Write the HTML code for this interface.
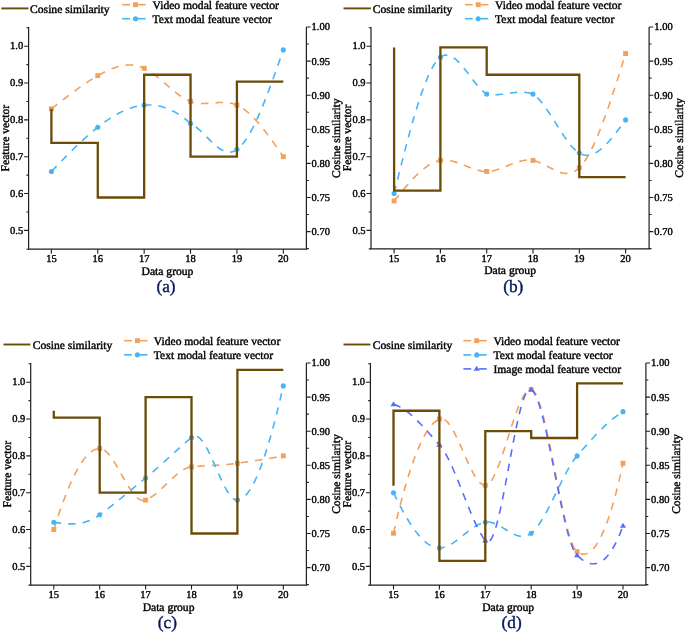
<!DOCTYPE html>
<html><head><meta charset="utf-8"><style>
html,body{margin:0;padding:0;background:#fff;}
svg{display:block;will-change:transform;}
svg text{font-family:"Liberation Serif", serif;fill:#000;stroke:#000;stroke-width:0.4px;font-size:10.5px;text-rendering:geometricPrecision;}
</style></head><body>
<svg width="685" height="632" viewBox="0 0 685 632">
<rect width="685" height="632" fill="#fff"/>
<g><path d="M28.60,27.10 V249.20 H306.40 V27.10" fill="none" stroke="#1e1e1e" stroke-width="1.2"/><text x="23.20" y="233.60" text-anchor="end">0.5</text><text x="23.20" y="196.76" text-anchor="end">0.6</text><text x="23.20" y="159.92" text-anchor="end">0.7</text><text x="23.20" y="123.08" text-anchor="end">0.8</text><text x="23.20" y="86.24" text-anchor="end">0.9</text><text x="23.20" y="49.40" text-anchor="end">1.0</text><text x="311.60" y="235.00">0.70</text><text x="311.60" y="200.90">0.75</text><text x="311.60" y="166.80">0.80</text><text x="311.60" y="132.70">0.85</text><text x="311.60" y="98.60">0.90</text><text x="311.60" y="64.50">0.95</text><text x="311.60" y="30.40">1.00</text><text x="51.40" y="261.90" text-anchor="middle">15</text><text x="97.78" y="261.90" text-anchor="middle">16</text><text x="144.16" y="261.90" text-anchor="middle">17</text><text x="190.54" y="261.90" text-anchor="middle">18</text><text x="236.92" y="261.90" text-anchor="middle">19</text><text x="283.30" y="261.90" text-anchor="middle">20</text><path d="M28.60,249.20 h-2.2 M28.60,230.40 h-4.5 M28.60,211.98 h-2.2 M28.60,193.56 h-4.5 M28.60,175.14 h-2.2 M28.60,156.72 h-4.5 M28.60,138.30 h-2.2 M28.60,119.88 h-4.5 M28.60,101.46 h-2.2 M28.60,83.04 h-4.5 M28.60,64.62 h-2.2 M28.60,46.20 h-4.5 M28.60,27.78 h-2.2 M306.40,248.65 h2.4 M306.40,231.60 h4.2 M306.40,214.55 h2.4 M306.40,197.50 h4.2 M306.40,180.45 h2.4 M306.40,163.40 h4.2 M306.40,146.35 h2.4 M306.40,129.30 h4.2 M306.40,112.25 h2.4 M306.40,95.20 h4.2 M306.40,78.15 h2.4 M306.40,61.10 h4.2 M306.40,44.05 h2.4 M306.40,27.00 h4.2 M51.40,249.20 v4.5 M97.78,249.20 v4.5 M144.16,249.20 v4.5 M190.54,249.20 v4.5 M236.92,249.20 v4.5 M283.30,249.20 v4.5" fill="none" stroke="#1e1e1e" stroke-width="1.1"/><text transform="translate(8.80,138.15) rotate(-90)" text-anchor="middle" style="font-size:11.6px">Feature vector</text><text transform="translate(340.20,138.15) rotate(-90)" text-anchor="middle" style="font-size:11.6px">Cosine similarity</text><text x="167.50" y="274.60" text-anchor="middle" style="font-size:11.6px">Data group</text><text x="166.00" y="292.30" text-anchor="middle" style="font-size:17.3px;fill:#03195f;stroke:#03195f">(a)</text><polyline points="51.40,108.83 52.17,108.22 52.95,107.62 53.72,107.01 54.49,106.40 55.27,105.80 56.04,105.19 56.81,104.59 57.58,103.99 58.36,103.38 59.13,102.78 59.90,102.18 60.68,101.58 61.45,100.98 62.22,100.38 62.99,99.79 63.77,99.19 64.54,98.60 65.31,98.01 66.09,97.41 66.86,96.83 67.63,96.24 68.41,95.65 69.18,95.07 69.95,94.49 70.72,93.91 71.50,93.33 72.27,92.76 73.04,92.18 73.82,91.61 74.59,91.05 75.36,90.48 76.14,89.92 76.91,89.36 77.68,88.81 78.45,88.25 79.23,87.70 80.00,87.16 80.77,86.61 81.55,86.07 82.32,85.54 83.09,85.00 83.87,84.47 84.64,83.95 85.41,83.43 86.19,82.91 86.96,82.39 87.73,81.88 88.50,81.38 89.28,80.88 90.05,80.38 90.82,79.89 91.60,79.40 92.37,78.92 93.14,78.44 93.91,77.97 94.69,77.50 95.46,77.03 96.23,76.57 97.01,76.12 97.78,75.67 98.55,75.23 99.33,74.79 100.10,74.36 100.87,73.94 101.64,73.52 102.42,73.10 103.19,72.70 103.96,72.30 104.74,71.91 105.51,71.53 106.28,71.15 107.06,70.79 107.83,70.43 108.60,70.08 109.38,69.74 110.15,69.41 110.92,69.09 111.69,68.78 112.47,68.48 113.24,68.19 114.01,67.91 114.79,67.64 115.56,67.39 116.33,67.14 117.11,66.91 117.88,66.69 118.65,66.48 119.42,66.28 120.20,66.10 120.97,65.93 121.74,65.77 122.52,65.63 123.29,65.50 124.06,65.38 124.84,65.28 125.61,65.20 126.38,65.13 127.15,65.07 127.93,65.03 128.70,65.01 129.47,65.00 130.25,65.01 131.02,65.04 131.79,65.08 132.56,65.14 133.34,65.22 134.11,65.32 134.88,65.43 135.66,65.56 136.43,65.71 137.20,65.88 137.98,66.07 138.75,66.28 139.52,66.51 140.30,66.76 141.07,67.02 141.84,67.31 142.61,67.62 143.39,67.95 144.16,68.30 144.93,68.68 145.71,69.07 146.48,69.49 147.25,69.92 148.03,70.37 148.80,70.84 149.57,71.33 150.34,71.83 151.12,72.35 151.89,72.88 152.66,73.43 153.44,73.99 154.21,74.56 154.98,75.15 155.75,75.74 156.53,76.35 157.30,76.96 158.07,77.59 158.85,78.22 159.62,78.86 160.39,79.50 161.17,80.15 161.94,80.81 162.71,81.47 163.48,82.13 164.26,82.79 165.03,83.46 165.80,84.13 166.58,84.80 167.35,85.46 168.12,86.13 168.90,86.79 169.67,87.46 170.44,88.11 171.22,88.77 171.99,89.42 172.76,90.06 173.53,90.69 174.31,91.32 175.08,91.94 175.85,92.55 176.63,93.16 177.40,93.75 178.17,94.33 178.94,94.89 179.72,95.45 180.49,95.99 181.26,96.52 182.04,97.03 182.81,97.53 183.58,98.01 184.36,98.47 185.13,98.92 185.90,99.34 186.68,99.75 187.45,100.13 188.22,100.50 188.99,100.84 189.77,101.16 190.54,101.46 191.31,101.73 192.09,101.98 192.86,102.21 193.63,102.42 194.41,102.60 195.18,102.76 195.95,102.91 196.72,103.04 197.50,103.15 198.27,103.24 199.04,103.32 199.82,103.38 200.59,103.43 201.36,103.46 202.14,103.48 202.91,103.50 203.68,103.50 204.45,103.49 205.23,103.47 206.00,103.44 206.77,103.40 207.55,103.36 208.32,103.31 209.09,103.26 209.87,103.21 210.64,103.15 211.41,103.08 212.18,103.02 212.96,102.96 213.73,102.89 214.50,102.83 215.28,102.77 216.05,102.71 216.82,102.65 217.60,102.60 218.37,102.55 219.14,102.51 219.91,102.48 220.69,102.45 221.46,102.44 222.23,102.43 223.01,102.43 223.78,102.44 224.55,102.47 225.33,102.50 226.10,102.55 226.87,102.62 227.64,102.70 228.42,102.80 229.19,102.91 229.96,103.04 230.74,103.19 231.51,103.36 232.28,103.54 233.06,103.75 233.83,103.98 234.60,104.24 235.37,104.52 236.15,104.82 236.92,105.14 237.69,105.50 238.47,105.87 239.24,106.28 240.01,106.71 240.78,107.16 241.56,107.63 242.33,108.13 243.10,108.66 243.88,109.20 244.65,109.77 245.42,110.36 246.20,110.97 246.97,111.60 247.74,112.25 248.52,112.92 249.29,113.61 250.06,114.32 250.83,115.05 251.61,115.79 252.38,116.56 253.15,117.34 253.93,118.14 254.70,118.95 255.47,119.78 256.25,120.63 257.02,121.49 257.79,122.37 258.56,123.26 259.34,124.16 260.11,125.08 260.88,126.01 261.66,126.96 262.43,127.91 263.20,128.88 263.97,129.86 264.75,130.85 265.52,131.85 266.29,132.86 267.07,133.88 267.84,134.91 268.61,135.94 269.39,136.99 270.16,138.04 270.93,139.10 271.70,140.17 272.48,141.24 273.25,142.32 274.02,143.41 274.80,144.50 275.57,145.60 276.34,146.70 277.12,147.80 277.89,148.91 278.66,150.02 279.44,151.13 280.21,152.25 280.98,153.36 281.75,154.48 282.53,155.60 283.30,156.72" fill="none" stroke="#f2a15c" stroke-width="1.6" stroke-dasharray="7.5 7"/><rect x="48.95" y="106.38" width="4.90" height="4.90" fill="#f2a15c"/><rect x="95.33" y="73.22" width="4.90" height="4.90" fill="#f2a15c"/><rect x="141.71" y="65.85" width="4.90" height="4.90" fill="#f2a15c"/><rect x="188.09" y="99.01" width="4.90" height="4.90" fill="#f2a15c"/><rect x="234.47" y="102.69" width="4.90" height="4.90" fill="#f2a15c"/><rect x="280.85" y="154.27" width="4.90" height="4.90" fill="#f2a15c"/><polyline points="51.40,171.46 52.17,170.66 52.95,169.86 53.72,169.06 54.49,168.26 55.27,167.46 56.04,166.66 56.81,165.87 57.58,165.07 58.36,164.27 59.13,163.48 59.90,162.69 60.68,161.89 61.45,161.10 62.22,160.31 62.99,159.52 63.77,158.74 64.54,157.95 65.31,157.17 66.09,156.39 66.86,155.61 67.63,154.83 68.41,154.05 69.18,153.28 69.95,152.51 70.72,151.74 71.50,150.98 72.27,150.22 73.04,149.46 73.82,148.70 74.59,147.94 75.36,147.19 76.14,146.45 76.91,145.70 77.68,144.96 78.45,144.22 79.23,143.49 80.00,142.76 80.77,142.03 81.55,141.31 82.32,140.59 83.09,139.88 83.87,139.17 84.64,138.46 85.41,137.76 86.19,137.07 86.96,136.38 87.73,135.69 88.50,135.01 89.28,134.33 90.05,133.66 90.82,132.99 91.60,132.33 92.37,131.68 93.14,131.03 93.91,130.38 94.69,129.74 95.46,129.11 96.23,128.48 97.01,127.86 97.78,127.25 98.55,126.64 99.33,126.04 100.10,125.44 100.87,124.85 101.64,124.27 102.42,123.69 103.19,123.13 103.96,122.56 104.74,122.01 105.51,121.46 106.28,120.92 107.06,120.39 107.83,119.86 108.60,119.34 109.38,118.83 110.15,118.33 110.92,117.83 111.69,117.34 112.47,116.86 113.24,116.39 114.01,115.93 114.79,115.47 115.56,115.02 116.33,114.58 117.11,114.15 117.88,113.73 118.65,113.32 119.42,112.91 120.20,112.52 120.97,112.13 121.74,111.75 122.52,111.38 123.29,111.03 124.06,110.67 124.84,110.33 125.61,110.00 126.38,109.68 127.15,109.37 127.93,109.07 128.70,108.78 129.47,108.49 130.25,108.22 131.02,107.96 131.79,107.71 132.56,107.46 133.34,107.23 134.11,107.01 134.88,106.80 135.66,106.60 136.43,106.42 137.20,106.24 137.98,106.07 138.75,105.92 139.52,105.77 140.30,105.64 141.07,105.52 141.84,105.41 142.61,105.31 143.39,105.22 144.16,105.14 144.93,105.08 145.71,105.03 146.48,104.99 147.25,104.96 148.03,104.94 148.80,104.94 149.57,104.95 150.34,104.97 151.12,105.00 151.89,105.04 152.66,105.10 153.44,105.17 154.21,105.25 154.98,105.34 155.75,105.45 156.53,105.57 157.30,105.70 158.07,105.84 158.85,106.00 159.62,106.16 160.39,106.34 161.17,106.54 161.94,106.74 162.71,106.96 163.48,107.19 164.26,107.43 165.03,107.69 165.80,107.96 166.58,108.24 167.35,108.54 168.12,108.85 168.90,109.17 169.67,109.50 170.44,109.85 171.22,110.21 171.99,110.58 172.76,110.97 173.53,111.37 174.31,111.78 175.08,112.20 175.85,112.64 176.63,113.10 177.40,113.56 178.17,114.04 178.94,114.53 179.72,115.04 180.49,115.56 181.26,116.09 182.04,116.64 182.81,117.20 183.58,117.77 184.36,118.36 185.13,118.96 185.90,119.58 186.68,120.21 187.45,120.85 188.22,121.51 188.99,122.18 189.77,122.87 190.54,123.56 191.31,123.95 192.09,124.38 192.86,124.84 193.63,125.33 194.41,125.85 195.18,126.41 195.95,126.99 196.72,127.60 197.50,128.23 198.27,128.89 199.04,129.56 199.82,130.25 200.59,130.96 201.36,131.69 202.14,132.43 202.91,133.18 203.68,133.94 204.45,134.70 205.23,135.48 206.00,136.25 206.77,137.03 207.55,137.81 208.32,138.59 209.09,139.36 209.87,140.13 210.64,140.89 211.41,141.64 212.18,142.38 212.96,143.11 213.73,143.83 214.50,144.52 215.28,145.20 216.05,145.86 216.82,146.50 217.60,147.11 218.37,147.70 219.14,148.26 219.91,148.79 220.69,149.29 221.46,149.76 222.23,150.19 223.01,150.59 223.78,150.95 224.55,151.26 225.33,151.54 226.10,151.77 226.87,151.96 227.64,152.09 228.42,152.18 229.19,152.22 229.96,152.20 230.74,152.13 231.51,152.00 232.28,151.81 233.06,151.56 233.83,151.25 234.60,150.88 235.37,150.44 236.15,149.93 236.92,149.35 237.69,148.78 238.47,148.15 239.24,147.47 240.01,146.74 240.78,145.96 241.56,145.12 242.33,144.23 243.10,143.30 243.88,142.31 244.65,141.28 245.42,140.21 246.20,139.08 246.97,137.92 247.74,136.70 248.52,135.45 249.29,134.16 250.06,132.82 250.83,131.44 251.61,130.03 252.38,128.57 253.15,127.08 253.93,125.56 254.70,123.99 255.47,122.40 256.25,120.77 257.02,119.11 257.79,117.41 258.56,115.69 259.34,113.93 260.11,112.15 260.88,110.34 261.66,108.50 262.43,106.64 263.20,104.75 263.97,102.84 264.75,100.90 265.52,98.94 266.29,96.96 267.07,94.96 267.84,92.94 268.61,90.90 269.39,88.85 270.16,86.78 270.93,84.69 271.70,82.58 272.48,80.47 273.25,78.34 274.02,76.19 274.80,74.04 275.57,71.88 276.34,69.70 277.12,67.52 277.89,65.33 278.66,63.14 279.44,60.94 280.21,58.73 280.98,56.52 281.75,54.31 282.53,52.10 283.30,49.88" fill="none" stroke="#45b4f8" stroke-width="1.6" stroke-dasharray="7.5 7"/><circle cx="51.40" cy="171.46" r="2.55" fill="#45b4f8"/><circle cx="97.78" cy="127.25" r="2.55" fill="#45b4f8"/><circle cx="144.16" cy="105.14" r="2.55" fill="#45b4f8"/><circle cx="190.54" cy="123.56" r="2.55" fill="#45b4f8"/><circle cx="236.92" cy="149.35" r="2.55" fill="#45b4f8"/><circle cx="283.30" cy="49.88" r="2.55" fill="#45b4f8"/><path d="M51.40,108.84 V142.94 H97.78 V197.50 H144.16 V74.74 H190.54 V156.58 H236.92 V81.56 H283.30" fill="none" stroke="#6b4b08" stroke-width="2.3"/><line x1="1.30" y1="8.40" x2="28.50" y2="8.40" stroke="#6b4b08" stroke-width="1.9"/><text x="30.10" y="12.50" style="font-size:11.6px">Cosine similarity</text><line x1="122.20" y1="4.70" x2="130.00" y2="4.70" stroke="#f2a15c" stroke-width="1.6"/><line x1="137.80" y1="4.70" x2="145.60" y2="4.70" stroke="#f2a15c" stroke-width="1.6"/><rect x="133.05" y="2.25" width="4.90" height="4.90" fill="#f2a15c"/><text x="152.50" y="9.10" style="font-size:11.6px">Video modal feature vector</text><line x1="122.20" y1="18.70" x2="130.00" y2="18.70" stroke="#45b4f8" stroke-width="1.6"/><line x1="137.80" y1="18.70" x2="145.60" y2="18.70" stroke="#45b4f8" stroke-width="1.6"/><circle cx="135.50" cy="18.70" r="2.55" fill="#45b4f8"/><text x="152.50" y="23.10" style="font-size:11.6px">Text modal feature vector</text></g>
<g><path d="M371.00,27.10 V248.90 H649.10 V27.10" fill="none" stroke="#1e1e1e" stroke-width="1.2"/><text x="365.60" y="233.60" text-anchor="end">0.5</text><text x="365.60" y="196.76" text-anchor="end">0.6</text><text x="365.60" y="159.92" text-anchor="end">0.7</text><text x="365.60" y="123.08" text-anchor="end">0.8</text><text x="365.60" y="86.24" text-anchor="end">0.9</text><text x="365.60" y="49.40" text-anchor="end">1.0</text><text x="654.30" y="235.00">0.70</text><text x="654.30" y="200.90">0.75</text><text x="654.30" y="166.80">0.80</text><text x="654.30" y="132.70">0.85</text><text x="654.30" y="98.60">0.90</text><text x="654.30" y="64.50">0.95</text><text x="654.30" y="30.40">1.00</text><text x="394.10" y="261.60" text-anchor="middle">15</text><text x="440.40" y="261.60" text-anchor="middle">16</text><text x="486.70" y="261.60" text-anchor="middle">17</text><text x="533.00" y="261.60" text-anchor="middle">18</text><text x="579.30" y="261.60" text-anchor="middle">19</text><text x="625.60" y="261.60" text-anchor="middle">20</text><path d="M371.00,248.90 h-2.2 M371.00,230.40 h-4.5 M371.00,211.98 h-2.2 M371.00,193.56 h-4.5 M371.00,175.14 h-2.2 M371.00,156.72 h-4.5 M371.00,138.30 h-2.2 M371.00,119.88 h-4.5 M371.00,101.46 h-2.2 M371.00,83.04 h-4.5 M371.00,64.62 h-2.2 M371.00,46.20 h-4.5 M371.00,27.78 h-2.2 M649.10,248.65 h2.4 M649.10,231.60 h4.2 M649.10,214.55 h2.4 M649.10,197.50 h4.2 M649.10,180.45 h2.4 M649.10,163.40 h4.2 M649.10,146.35 h2.4 M649.10,129.30 h4.2 M649.10,112.25 h2.4 M649.10,95.20 h4.2 M649.10,78.15 h2.4 M649.10,61.10 h4.2 M649.10,44.05 h2.4 M649.10,27.00 h4.2 M394.10,248.90 v4.5 M440.40,248.90 v4.5 M486.70,248.90 v4.5 M533.00,248.90 v4.5 M579.30,248.90 v4.5 M625.60,248.90 v4.5" fill="none" stroke="#1e1e1e" stroke-width="1.1"/><text transform="translate(351.20,138.00) rotate(-90)" text-anchor="middle" style="font-size:11.6px">Feature vector</text><text transform="translate(682.90,138.00) rotate(-90)" text-anchor="middle" style="font-size:11.6px">Cosine similarity</text><text x="510.05" y="274.30" text-anchor="middle" style="font-size:11.6px">Data group</text><text x="513.30" y="292.00" text-anchor="middle" style="font-size:17.3px;fill:#03195f;stroke:#03195f">(b)</text><polyline points="394.10,200.93 394.87,199.98 395.64,199.03 396.42,198.09 397.19,197.14 397.96,196.20 398.73,195.26 399.50,194.32 400.27,193.38 401.05,192.45 401.82,191.53 402.59,190.60 403.36,189.69 404.13,188.77 404.90,187.87 405.68,186.97 406.45,186.07 407.22,185.19 407.99,184.31 408.76,183.44 409.53,182.58 410.31,181.73 411.08,180.88 411.85,180.05 412.62,179.23 413.39,178.42 414.16,177.62 414.94,176.83 415.71,176.05 416.48,175.29 417.25,174.54 418.02,173.80 418.79,173.08 419.56,172.37 420.34,171.68 421.11,171.00 421.88,170.34 422.65,169.69 423.42,169.07 424.20,168.45 424.97,167.86 425.74,167.28 426.51,166.73 427.28,166.19 428.05,165.67 428.83,165.17 429.60,164.70 430.37,164.24 431.14,163.80 431.91,163.39 432.68,163.00 433.46,162.63 434.23,162.28 435.00,161.96 435.77,161.66 436.54,161.39 437.31,161.14 438.09,160.92 438.86,160.72 439.63,160.55 440.40,160.40 441.17,160.29 441.94,160.20 442.72,160.13 443.49,160.09 444.26,160.07 445.03,160.08 445.80,160.11 446.57,160.16 447.35,160.23 448.12,160.32 448.89,160.43 449.66,160.56 450.43,160.70 451.20,160.86 451.98,161.04 452.75,161.23 453.52,161.43 454.29,161.65 455.06,161.88 455.83,162.12 456.61,162.37 457.38,162.63 458.15,162.90 458.92,163.18 459.69,163.47 460.46,163.76 461.24,164.06 462.01,164.36 462.78,164.66 463.55,164.97 464.32,165.28 465.09,165.59 465.87,165.91 466.64,166.22 467.41,166.53 468.18,166.84 468.95,167.14 469.72,167.45 470.50,167.74 471.27,168.04 472.04,168.32 472.81,168.60 473.58,168.87 474.35,169.13 475.12,169.39 475.90,169.63 476.67,169.86 477.44,170.08 478.21,170.28 478.98,170.48 479.75,170.65 480.53,170.82 481.30,170.96 482.07,171.09 482.84,171.20 483.61,171.29 484.38,171.37 485.16,171.42 485.93,171.45 486.70,171.46 487.47,171.44 488.24,171.41 489.01,171.35 489.79,171.27 490.56,171.17 491.33,171.06 492.10,170.92 492.87,170.77 493.64,170.60 494.42,170.42 495.19,170.22 495.96,170.01 496.73,169.79 497.50,169.55 498.28,169.30 499.05,169.05 499.82,168.78 500.59,168.50 501.36,168.22 502.13,167.93 502.91,167.64 503.68,167.33 504.45,167.03 505.22,166.72 505.99,166.41 506.76,166.09 507.54,165.78 508.31,165.47 509.08,165.15 509.85,164.84 510.62,164.53 511.39,164.22 512.16,163.92 512.94,163.62 513.71,163.33 514.48,163.05 515.25,162.77 516.02,162.50 516.80,162.24 517.57,161.99 518.34,161.75 519.11,161.52 519.88,161.31 520.65,161.11 521.42,160.92 522.20,160.75 522.97,160.59 523.74,160.45 524.51,160.33 525.28,160.23 526.06,160.15 526.83,160.08 527.60,160.04 528.37,160.02 529.14,160.02 529.91,160.05 530.69,160.10 531.46,160.17 532.23,160.28 533.00,160.40 533.77,160.56 534.54,160.74 535.32,160.95 536.09,161.18 536.86,161.43 537.63,161.71 538.40,162.00 539.17,162.31 539.95,162.64 540.72,162.98 541.49,163.34 542.26,163.71 543.03,164.09 543.80,164.47 544.58,164.87 545.35,165.27 546.12,165.68 546.89,166.09 547.66,166.51 548.43,166.92 549.21,167.33 549.98,167.74 550.75,168.15 551.52,168.56 552.29,168.95 553.06,169.34 553.84,169.72 554.61,170.09 555.38,170.45 556.15,170.79 556.92,171.12 557.69,171.43 558.47,171.73 559.24,172.00 560.01,172.26 560.78,172.49 561.55,172.70 562.32,172.88 563.10,173.04 563.87,173.17 564.64,173.27 565.41,173.34 566.18,173.38 566.95,173.39 567.73,173.36 568.50,173.29 569.27,173.19 570.04,173.05 570.81,172.87 571.58,172.64 572.36,172.37 573.13,172.06 573.90,171.70 574.67,171.29 575.44,170.84 576.21,170.33 576.99,169.77 577.76,169.16 578.53,168.49 579.30,167.77 580.07,166.99 580.84,166.16 581.62,165.26 582.39,164.32 583.16,163.32 583.93,162.26 584.70,161.16 585.47,160.00 586.25,158.79 587.02,157.54 587.79,156.24 588.56,154.89 589.33,153.49 590.10,152.05 590.88,150.56 591.65,149.03 592.42,147.46 593.19,145.85 593.96,144.20 594.73,142.51 595.50,140.78 596.28,139.01 597.05,137.20 597.82,135.36 598.59,133.49 599.36,131.58 600.13,129.64 600.91,127.67 601.68,125.67 602.45,123.63 603.22,121.57 603.99,119.48 604.76,117.36 605.54,115.22 606.31,113.06 607.08,110.86 607.85,108.65 608.62,106.41 609.39,104.16 610.17,101.88 610.94,99.58 611.71,97.27 612.48,94.93 613.25,92.58 614.02,90.22 614.80,87.84 615.57,85.45 616.34,83.05 617.11,80.63 617.88,78.20 618.65,75.77 619.43,73.32 620.20,70.87 620.97,68.41 621.74,65.95 622.51,63.48 623.29,61.00 624.06,58.53 624.83,56.05 625.60,53.57" fill="none" stroke="#f2a15c" stroke-width="1.6" stroke-dasharray="7.5 7"/><rect x="391.65" y="198.48" width="4.90" height="4.90" fill="#f2a15c"/><rect x="437.95" y="157.95" width="4.90" height="4.90" fill="#f2a15c"/><rect x="484.25" y="169.01" width="4.90" height="4.90" fill="#f2a15c"/><rect x="530.55" y="157.95" width="4.90" height="4.90" fill="#f2a15c"/><rect x="576.85" y="165.32" width="4.90" height="4.90" fill="#f2a15c"/><rect x="623.15" y="51.12" width="4.90" height="4.90" fill="#f2a15c"/><polyline points="394.10,193.56 394.87,190.44 395.64,187.33 396.42,184.22 397.19,181.11 397.96,178.01 398.73,174.92 399.50,171.83 400.27,168.76 401.05,165.69 401.82,162.64 402.59,159.60 403.36,156.58 404.13,153.58 404.90,150.59 405.68,147.62 406.45,144.68 407.22,141.75 407.99,138.85 408.76,135.98 409.53,133.13 410.31,130.31 411.08,127.52 411.85,124.76 412.62,122.03 413.39,119.34 414.16,116.68 414.94,114.06 415.71,111.48 416.48,108.93 417.25,106.43 418.02,103.97 418.79,101.55 419.56,99.18 420.34,96.85 421.11,94.57 421.88,92.34 422.65,90.16 423.42,88.04 424.20,85.96 424.97,83.94 425.74,81.98 426.51,80.08 427.28,78.23 428.05,76.45 428.83,74.72 429.60,73.06 430.37,71.47 431.14,69.94 431.91,68.48 432.68,67.08 433.46,65.76 434.23,64.51 435.00,63.33 435.77,62.23 436.54,61.20 437.31,60.25 438.09,59.38 438.86,58.59 439.63,57.88 440.40,57.25 441.17,56.71 441.94,56.25 442.72,55.87 443.49,55.56 444.26,55.34 445.03,55.18 445.80,55.10 446.57,55.08 447.35,55.13 448.12,55.25 448.89,55.43 449.66,55.67 450.43,55.96 451.20,56.31 451.98,56.72 452.75,57.17 453.52,57.68 454.29,58.23 455.06,58.83 455.83,59.46 456.61,60.14 457.38,60.86 458.15,61.61 458.92,62.39 459.69,63.21 460.46,64.05 461.24,64.92 462.01,65.82 462.78,66.74 463.55,67.67 464.32,68.63 465.09,69.60 465.87,70.58 466.64,71.58 467.41,72.58 468.18,73.59 468.95,74.61 469.72,75.63 470.50,76.65 471.27,77.66 472.04,78.67 472.81,79.68 473.58,80.67 474.35,81.66 475.12,82.63 475.90,83.58 476.67,84.52 477.44,85.44 478.21,86.34 478.98,87.21 479.75,88.05 480.53,88.87 481.30,89.65 482.07,90.40 482.84,91.12 483.61,91.80 484.38,92.44 485.16,93.03 485.93,93.59 486.70,94.09 487.47,94.24 488.24,94.37 489.01,94.47 489.79,94.57 490.56,94.64 491.33,94.70 492.10,94.74 492.87,94.77 493.64,94.78 494.42,94.79 495.19,94.77 495.96,94.75 496.73,94.72 497.50,94.67 498.28,94.62 499.05,94.56 499.82,94.48 500.59,94.41 501.36,94.32 502.13,94.23 502.91,94.13 503.68,94.03 504.45,93.93 505.22,93.82 505.99,93.71 506.76,93.60 507.54,93.49 508.31,93.38 509.08,93.27 509.85,93.16 510.62,93.05 511.39,92.94 512.16,92.84 512.94,92.74 513.71,92.65 514.48,92.57 515.25,92.48 516.02,92.41 516.80,92.35 517.57,92.29 518.34,92.24 519.11,92.21 519.88,92.18 520.65,92.16 521.42,92.16 522.20,92.17 522.97,92.20 523.74,92.24 524.51,92.29 525.28,92.36 526.06,92.45 526.83,92.55 527.60,92.67 528.37,92.81 529.14,92.97 529.91,93.15 530.69,93.35 531.46,93.58 532.23,93.82 533.00,94.09 533.77,94.62 534.54,95.19 535.32,95.81 536.09,96.47 536.86,97.18 537.63,97.93 538.40,98.71 539.17,99.54 539.95,100.40 540.72,101.29 541.49,102.22 542.26,103.18 543.03,104.17 543.80,105.19 544.58,106.23 545.35,107.30 546.12,108.38 546.89,109.49 547.66,110.62 548.43,111.77 549.21,112.94 549.98,114.11 550.75,115.30 551.52,116.51 552.29,117.72 553.06,118.94 553.84,120.16 554.61,121.39 555.38,122.62 556.15,123.85 556.92,125.09 557.69,126.32 558.47,127.54 559.24,128.76 560.01,129.98 560.78,131.18 561.55,132.37 562.32,133.55 563.10,134.72 563.87,135.87 564.64,137.01 565.41,138.12 566.18,139.22 566.95,140.29 567.73,141.34 568.50,142.36 569.27,143.35 570.04,144.32 570.81,145.25 571.58,146.16 572.36,147.03 573.13,147.86 573.90,148.65 574.67,149.41 575.44,150.13 576.21,150.80 576.99,151.43 577.76,152.01 578.53,152.55 579.30,153.04 580.07,153.47 580.84,153.86 581.62,154.20 582.39,154.49 583.16,154.73 583.93,154.93 584.70,155.08 585.47,155.18 586.25,155.24 587.02,155.26 587.79,155.24 588.56,155.17 589.33,155.07 590.10,154.92 590.88,154.74 591.65,154.51 592.42,154.25 593.19,153.96 593.96,153.63 594.73,153.26 595.50,152.86 596.28,152.43 597.05,151.96 597.82,151.46 598.59,150.94 599.36,150.38 600.13,149.79 600.91,149.18 601.68,148.54 602.45,147.87 603.22,147.18 603.99,146.47 604.76,145.72 605.54,144.96 606.31,144.18 607.08,143.37 607.85,142.54 608.62,141.70 609.39,140.83 610.17,139.95 610.94,139.05 611.71,138.14 612.48,137.21 613.25,136.26 614.02,135.30 614.80,134.33 615.57,133.35 616.34,132.36 617.11,131.35 617.88,130.34 618.65,129.32 619.43,128.29 620.20,127.25 620.97,126.21 621.74,125.16 622.51,124.11 623.29,123.06 624.06,122.00 624.83,120.94 625.60,119.88" fill="none" stroke="#45b4f8" stroke-width="1.6" stroke-dasharray="7.5 7"/><circle cx="394.10" cy="193.56" r="2.55" fill="#45b4f8"/><circle cx="440.40" cy="57.25" r="2.55" fill="#45b4f8"/><circle cx="486.70" cy="94.09" r="2.55" fill="#45b4f8"/><circle cx="533.00" cy="94.09" r="2.55" fill="#45b4f8"/><circle cx="579.30" cy="153.04" r="2.55" fill="#45b4f8"/><circle cx="625.60" cy="119.88" r="2.55" fill="#45b4f8"/><path d="M394.10,47.46 V190.68 H440.40 V47.46 H486.70 V74.74 H533.00 V74.74 H579.30 V177.04 H625.60" fill="none" stroke="#6b4b08" stroke-width="2.3"/><line x1="343.50" y1="8.40" x2="370.90" y2="8.40" stroke="#6b4b08" stroke-width="1.9"/><text x="372.70" y="12.50" style="font-size:11.6px">Cosine similarity</text><line x1="464.90" y1="4.70" x2="472.70" y2="4.70" stroke="#f2a15c" stroke-width="1.6"/><line x1="480.50" y1="4.70" x2="488.30" y2="4.70" stroke="#f2a15c" stroke-width="1.6"/><rect x="475.75" y="2.25" width="4.90" height="4.90" fill="#f2a15c"/><text x="495.00" y="9.10" style="font-size:11.6px">Video modal feature vector</text><line x1="464.90" y1="18.70" x2="472.70" y2="18.70" stroke="#45b4f8" stroke-width="1.6"/><line x1="480.50" y1="18.70" x2="488.30" y2="18.70" stroke="#45b4f8" stroke-width="1.6"/><circle cx="478.20" cy="18.70" r="2.55" fill="#45b4f8"/><text x="495.00" y="23.10" style="font-size:11.6px">Text modal feature vector</text></g>
<g><path d="M30.70,363.10 V585.10 H306.40 V363.10" fill="none" stroke="#1e1e1e" stroke-width="1.2"/><text x="25.30" y="569.60" text-anchor="end">0.5</text><text x="25.30" y="532.76" text-anchor="end">0.6</text><text x="25.30" y="495.92" text-anchor="end">0.7</text><text x="25.30" y="459.08" text-anchor="end">0.8</text><text x="25.30" y="422.24" text-anchor="end">0.9</text><text x="25.30" y="385.40" text-anchor="end">1.0</text><text x="311.60" y="571.00">0.70</text><text x="311.60" y="536.90">0.75</text><text x="311.60" y="502.80">0.80</text><text x="311.60" y="468.70">0.85</text><text x="311.60" y="434.60">0.90</text><text x="311.60" y="400.50">0.95</text><text x="311.60" y="366.40">1.00</text><text x="53.80" y="597.80" text-anchor="middle">15</text><text x="99.70" y="597.80" text-anchor="middle">16</text><text x="145.60" y="597.80" text-anchor="middle">17</text><text x="191.50" y="597.80" text-anchor="middle">18</text><text x="237.40" y="597.80" text-anchor="middle">19</text><text x="283.30" y="597.80" text-anchor="middle">20</text><path d="M30.70,585.10 h-2.2 M30.70,566.40 h-4.5 M30.70,547.98 h-2.2 M30.70,529.56 h-4.5 M30.70,511.14 h-2.2 M30.70,492.72 h-4.5 M30.70,474.30 h-2.2 M30.70,455.88 h-4.5 M30.70,437.46 h-2.2 M30.70,419.04 h-4.5 M30.70,400.62 h-2.2 M30.70,382.20 h-4.5 M30.70,363.78 h-2.2 M306.40,584.65 h2.4 M306.40,567.60 h4.2 M306.40,550.55 h2.4 M306.40,533.50 h4.2 M306.40,516.45 h2.4 M306.40,499.40 h4.2 M306.40,482.35 h2.4 M306.40,465.30 h4.2 M306.40,448.25 h2.4 M306.40,431.20 h4.2 M306.40,414.15 h2.4 M306.40,397.10 h4.2 M306.40,380.05 h2.4 M306.40,363.00 h4.2 M53.80,585.10 v4.5 M99.70,585.10 v4.5 M145.60,585.10 v4.5 M191.50,585.10 v4.5 M237.40,585.10 v4.5 M283.30,585.10 v4.5" fill="none" stroke="#1e1e1e" stroke-width="1.1"/><text transform="translate(10.90,474.10) rotate(-90)" text-anchor="middle" style="font-size:11.6px">Feature vector</text><text transform="translate(340.20,474.10) rotate(-90)" text-anchor="middle" style="font-size:11.6px">Cosine similarity</text><text x="168.55" y="610.50" text-anchor="middle" style="font-size:11.6px">Data group</text><text x="167.30" y="628.20" text-anchor="middle" style="font-size:17.3px;fill:#03195f;stroke:#03195f">(c)</text><polyline points="53.80,529.56 54.56,527.12 55.33,524.71 56.09,522.32 56.86,519.97 57.62,517.65 58.39,515.36 59.15,513.09 59.92,510.87 60.68,508.67 61.45,506.50 62.21,504.37 62.98,502.27 63.74,500.21 64.51,498.18 65.27,496.18 66.04,494.22 66.80,492.29 67.57,490.40 68.33,488.54 69.10,486.73 69.86,484.94 70.63,483.20 71.39,481.49 72.16,479.82 72.92,478.19 73.69,476.60 74.45,475.05 75.22,473.54 75.98,472.06 76.75,470.63 77.51,469.24 78.28,467.89 79.05,466.58 79.81,465.32 80.58,464.09 81.34,462.91 82.10,461.78 82.87,460.68 83.63,459.63 84.40,458.63 85.16,457.67 85.93,456.75 86.69,455.88 87.46,455.06 88.22,454.29 88.99,453.56 89.75,452.88 90.52,452.24 91.28,451.66 92.05,451.12 92.81,450.63 93.58,450.19 94.34,449.80 95.11,449.47 95.88,449.18 96.64,448.94 97.41,448.76 98.17,448.62 98.94,448.54 99.70,448.51 100.47,448.56 101.23,448.70 102.00,448.92 102.76,449.24 103.52,449.63 104.29,450.11 105.06,450.66 105.82,451.28 106.58,451.97 107.35,452.73 108.11,453.55 108.88,454.43 109.64,455.36 110.41,456.35 111.17,457.39 111.94,458.47 112.70,459.59 113.47,460.75 114.23,461.95 115.00,463.18 115.77,464.44 116.53,465.72 117.29,467.03 118.06,468.35 118.83,469.69 119.59,471.04 120.35,472.40 121.12,473.77 121.88,475.14 122.65,476.50 123.41,477.86 124.18,479.22 124.94,480.56 125.71,481.88 126.47,483.19 127.24,484.48 128.00,485.74 128.77,486.97 129.53,488.17 130.30,489.34 131.06,490.46 131.83,491.55 132.59,492.59 133.36,493.58 134.12,494.52 134.89,495.40 135.65,496.23 136.42,496.99 137.19,497.69 137.95,498.32 138.71,498.88 139.48,499.36 140.25,499.76 141.01,500.08 141.77,500.32 142.54,500.46 143.31,500.51 144.07,500.47 144.83,500.33 145.60,500.09 146.37,499.78 147.13,499.43 147.89,499.06 148.66,498.66 149.43,498.22 150.19,497.77 150.95,497.28 151.72,496.77 152.48,496.24 153.25,495.69 154.01,495.12 154.78,494.52 155.55,493.91 156.31,493.29 157.07,492.64 157.84,491.98 158.60,491.31 159.37,490.63 160.13,489.93 160.90,489.23 161.66,488.51 162.43,487.79 163.19,487.06 163.96,486.33 164.72,485.60 165.49,484.86 166.25,484.12 167.02,483.38 167.78,482.64 168.55,481.91 169.31,481.17 170.08,480.45 170.84,479.72 171.61,479.01 172.38,478.30 173.14,477.61 173.91,476.92 174.67,476.25 175.44,475.59 176.20,474.94 176.96,474.31 177.73,473.70 178.50,473.10 179.26,472.53 180.02,471.97 180.79,471.44 181.56,470.93 182.32,470.44 183.08,469.98 183.85,469.55 184.62,469.14 185.38,468.76 186.14,468.41 186.91,468.10 187.68,467.82 188.44,467.57 189.20,467.35 189.97,467.17 190.74,467.03 191.50,466.93 192.26,466.85 193.03,466.77 193.79,466.70 194.56,466.63 195.32,466.56 196.09,466.49 196.86,466.43 197.62,466.37 198.38,466.31 199.15,466.25 199.91,466.20 200.68,466.14 201.44,466.09 202.21,466.04 202.97,465.99 203.74,465.94 204.50,465.90 205.27,465.85 206.03,465.81 206.80,465.76 207.56,465.72 208.33,465.68 209.09,465.64 209.86,465.60 210.62,465.55 211.39,465.51 212.15,465.47 212.92,465.43 213.69,465.39 214.45,465.35 215.21,465.30 215.98,465.26 216.75,465.21 217.51,465.17 218.27,465.12 219.04,465.08 219.81,465.03 220.57,464.98 221.33,464.92 222.10,464.87 222.87,464.81 223.63,464.76 224.39,464.70 225.16,464.64 225.93,464.57 226.69,464.51 227.45,464.44 228.22,464.36 228.98,464.29 229.75,464.21 230.51,464.13 231.28,464.05 232.05,463.96 232.81,463.87 233.57,463.78 234.34,463.68 235.10,463.58 235.87,463.47 236.63,463.36 237.40,463.25 238.16,463.13 238.93,463.02 239.69,462.90 240.46,462.79 241.22,462.67 241.99,462.56 242.75,462.45 243.52,462.33 244.29,462.22 245.05,462.11 245.81,462.00 246.58,461.89 247.34,461.77 248.11,461.66 248.88,461.55 249.64,461.44 250.40,461.33 251.17,461.21 251.94,461.10 252.70,460.99 253.46,460.88 254.23,460.76 254.99,460.65 255.76,460.54 256.52,460.42 257.29,460.31 258.06,460.19 258.82,460.08 259.58,459.96 260.35,459.85 261.12,459.73 261.88,459.61 262.64,459.49 263.41,459.37 264.17,459.25 264.94,459.13 265.70,459.01 266.47,458.89 267.24,458.76 268.00,458.64 268.76,458.51 269.53,458.39 270.30,458.26 271.06,458.13 271.82,458.00 272.59,457.87 273.35,457.74 274.12,457.60 274.88,457.47 275.65,457.33 276.41,457.19 277.18,457.05 277.94,456.91 278.71,456.77 279.48,456.63 280.24,456.48 281.00,456.33 281.77,456.18 282.53,456.03 283.30,455.88" fill="none" stroke="#f2a15c" stroke-width="1.6" stroke-dasharray="7.5 7"/><rect x="51.35" y="527.11" width="4.90" height="4.90" fill="#f2a15c"/><rect x="97.25" y="446.06" width="4.90" height="4.90" fill="#f2a15c"/><rect x="143.15" y="497.64" width="4.90" height="4.90" fill="#f2a15c"/><rect x="189.05" y="464.48" width="4.90" height="4.90" fill="#f2a15c"/><rect x="234.95" y="460.80" width="4.90" height="4.90" fill="#f2a15c"/><rect x="280.85" y="453.43" width="4.90" height="4.90" fill="#f2a15c"/><polyline points="53.80,522.19 54.56,522.31 55.33,522.43 56.09,522.55 56.86,522.67 57.62,522.78 58.39,522.88 59.15,522.99 59.92,523.09 60.68,523.18 61.45,523.28 62.21,523.36 62.98,523.44 63.74,523.52 64.51,523.59 65.27,523.65 66.04,523.71 66.80,523.76 67.57,523.80 68.33,523.83 69.10,523.86 69.86,523.88 70.63,523.89 71.39,523.89 72.16,523.88 72.92,523.86 73.69,523.84 74.45,523.80 75.22,523.75 75.98,523.69 76.75,523.62 77.51,523.54 78.28,523.45 79.05,523.35 79.81,523.23 80.58,523.10 81.34,522.96 82.10,522.80 82.87,522.63 83.63,522.45 84.40,522.25 85.16,522.04 85.93,521.81 86.69,521.57 87.46,521.31 88.22,521.04 88.99,520.75 89.75,520.45 90.52,520.12 91.28,519.78 92.05,519.43 92.81,519.05 93.58,518.66 94.34,518.25 95.11,517.82 95.88,517.37 96.64,516.90 97.41,516.41 98.17,515.90 98.94,515.37 99.70,514.82 100.47,514.26 101.23,513.70 102.00,513.13 102.76,512.56 103.52,511.99 104.29,511.41 105.06,510.83 105.82,510.25 106.58,509.67 107.35,509.08 108.11,508.49 108.88,507.90 109.64,507.31 110.41,506.71 111.17,506.11 111.94,505.51 112.70,504.91 113.47,504.30 114.23,503.70 115.00,503.09 115.77,502.48 116.53,501.87 117.29,501.25 118.06,500.64 118.83,500.02 119.59,499.40 120.35,498.78 121.12,498.16 121.88,497.54 122.65,496.92 123.41,496.29 124.18,495.67 124.94,495.04 125.71,494.41 126.47,493.78 127.24,493.15 128.00,492.52 128.77,491.89 129.53,491.26 130.30,490.63 131.06,490.00 131.83,489.36 132.59,488.73 133.36,488.10 134.12,487.46 134.89,486.83 135.65,486.20 136.42,485.56 137.19,484.93 137.95,484.29 138.71,483.66 139.48,483.03 140.25,482.40 141.01,481.76 141.77,481.13 142.54,480.50 143.31,479.87 144.07,479.24 144.83,478.61 145.60,477.98 146.37,477.35 147.13,476.72 147.89,476.08 148.66,475.44 149.43,474.79 150.19,474.14 150.95,473.49 151.72,472.84 152.48,472.18 153.25,471.51 154.01,470.85 154.78,470.18 155.55,469.51 156.31,468.83 157.07,468.16 157.84,467.48 158.60,466.80 159.37,466.12 160.13,465.43 160.90,464.74 161.66,464.06 162.43,463.37 163.19,462.68 163.96,461.98 164.72,461.29 165.49,460.60 166.25,459.90 167.02,459.21 167.78,458.51 168.55,457.82 169.31,457.12 170.08,456.42 170.84,455.73 171.61,455.03 172.38,454.34 173.14,453.64 173.91,452.95 174.67,452.25 175.44,451.56 176.20,450.87 176.96,450.18 177.73,449.49 178.50,448.80 179.26,448.11 180.02,447.43 180.79,446.75 181.56,446.07 182.32,445.39 183.08,444.71 183.85,444.04 184.62,443.37 185.38,442.70 186.14,442.03 186.91,441.37 187.68,440.71 188.44,440.05 189.20,439.40 189.97,438.75 190.74,438.10 191.50,437.46 192.26,436.89 193.03,436.47 193.79,436.19 194.56,436.04 195.32,436.02 196.09,436.12 196.86,436.35 197.62,436.69 198.38,437.15 199.15,437.71 199.91,438.37 200.68,439.14 201.44,439.99 202.21,440.93 202.97,441.96 203.74,443.07 204.50,444.25 205.27,445.50 206.03,446.82 206.80,448.19 207.56,449.62 208.33,451.11 209.09,452.64 209.86,454.21 210.62,455.83 211.39,457.47 212.15,459.14 212.92,460.84 213.69,462.56 214.45,464.29 215.21,466.03 215.98,467.77 216.75,469.52 217.51,471.26 218.27,473.00 219.04,474.72 219.81,476.42 220.57,478.10 221.33,479.76 222.10,481.38 222.87,482.97 223.63,484.51 224.39,486.01 225.16,487.46 225.93,488.86 226.69,490.19 227.45,491.46 228.22,492.67 228.98,493.80 229.75,494.85 230.51,495.82 231.28,496.71 232.05,497.50 232.81,498.19 233.57,498.79 234.34,499.28 235.10,499.66 235.87,499.92 236.63,500.07 237.40,500.09 238.16,500.01 238.93,499.85 239.69,499.63 240.46,499.33 241.22,498.95 241.99,498.51 242.75,497.99 243.52,497.41 244.29,496.75 245.05,496.03 245.81,495.23 246.58,494.37 247.34,493.44 248.11,492.45 248.88,491.39 249.64,490.26 250.40,489.07 251.17,487.81 251.94,486.50 252.70,485.12 253.46,483.67 254.23,482.17 254.99,480.60 255.76,478.98 256.52,477.29 257.29,475.55 258.06,473.75 258.82,471.89 259.58,469.97 260.35,468.00 261.12,465.97 261.88,463.89 262.64,461.75 263.41,459.56 264.17,457.32 264.94,455.02 265.70,452.67 266.47,450.27 267.24,447.82 268.00,445.32 268.76,442.78 269.53,440.18 270.30,437.53 271.06,434.84 271.82,432.10 272.59,429.32 273.35,426.49 274.12,423.62 274.88,420.70 275.65,417.74 276.41,414.73 277.18,411.69 277.94,408.60 278.71,405.47 279.48,402.30 280.24,399.10 281.00,395.85 281.77,392.56 282.53,389.24 283.30,385.88" fill="none" stroke="#45b4f8" stroke-width="1.6" stroke-dasharray="7.5 7"/><circle cx="53.80" cy="522.19" r="2.55" fill="#45b4f8"/><circle cx="99.70" cy="514.82" r="2.55" fill="#45b4f8"/><circle cx="145.60" cy="477.98" r="2.55" fill="#45b4f8"/><circle cx="191.50" cy="437.46" r="2.55" fill="#45b4f8"/><circle cx="237.40" cy="500.09" r="2.55" fill="#45b4f8"/><circle cx="283.30" cy="385.88" r="2.55" fill="#45b4f8"/><path d="M53.80,410.74 V417.56 H99.70 V492.58 H145.60 V397.10 H191.50 V533.50 H237.40 V369.82 H283.30" fill="none" stroke="#6b4b08" stroke-width="2.3"/><line x1="3.50" y1="344.50" x2="30.40" y2="344.50" stroke="#6b4b08" stroke-width="1.9"/><text x="32.70" y="348.60" style="font-size:11.6px">Cosine similarity</text><line x1="124.10" y1="340.70" x2="131.90" y2="340.70" stroke="#f2a15c" stroke-width="1.6"/><line x1="139.70" y1="340.70" x2="147.50" y2="340.70" stroke="#f2a15c" stroke-width="1.6"/><rect x="134.95" y="338.25" width="4.90" height="4.90" fill="#f2a15c"/><text x="153.80" y="345.10" style="font-size:11.6px">Video modal feature vector</text><line x1="124.10" y1="354.80" x2="131.90" y2="354.80" stroke="#45b4f8" stroke-width="1.6"/><line x1="139.70" y1="354.80" x2="147.50" y2="354.80" stroke="#45b4f8" stroke-width="1.6"/><circle cx="137.40" cy="354.80" r="2.55" fill="#45b4f8"/><text x="153.80" y="359.20" style="font-size:11.6px">Text modal feature vector</text></g>
<g><path d="M370.40,363.10 V585.10 H645.90 V363.10" fill="none" stroke="#1e1e1e" stroke-width="1.2"/><text x="365.00" y="569.60" text-anchor="end">0.5</text><text x="365.00" y="532.76" text-anchor="end">0.6</text><text x="365.00" y="495.92" text-anchor="end">0.7</text><text x="365.00" y="459.08" text-anchor="end">0.8</text><text x="365.00" y="422.24" text-anchor="end">0.9</text><text x="365.00" y="385.40" text-anchor="end">1.0</text><text x="651.10" y="571.00">0.70</text><text x="651.10" y="536.90">0.75</text><text x="651.10" y="502.80">0.80</text><text x="651.10" y="468.70">0.85</text><text x="651.10" y="434.60">0.90</text><text x="651.10" y="400.50">0.95</text><text x="651.10" y="366.40">1.00</text><text x="393.50" y="597.80" text-anchor="middle">15</text><text x="439.40" y="597.80" text-anchor="middle">16</text><text x="485.30" y="597.80" text-anchor="middle">17</text><text x="531.20" y="597.80" text-anchor="middle">18</text><text x="577.10" y="597.80" text-anchor="middle">19</text><text x="623.00" y="597.80" text-anchor="middle">20</text><path d="M370.40,585.10 h-2.2 M370.40,566.40 h-4.5 M370.40,547.98 h-2.2 M370.40,529.56 h-4.5 M370.40,511.14 h-2.2 M370.40,492.72 h-4.5 M370.40,474.30 h-2.2 M370.40,455.88 h-4.5 M370.40,437.46 h-2.2 M370.40,419.04 h-4.5 M370.40,400.62 h-2.2 M370.40,382.20 h-4.5 M370.40,363.78 h-2.2 M645.90,584.65 h2.4 M645.90,567.60 h4.2 M645.90,550.55 h2.4 M645.90,533.50 h4.2 M645.90,516.45 h2.4 M645.90,499.40 h4.2 M645.90,482.35 h2.4 M645.90,465.30 h4.2 M645.90,448.25 h2.4 M645.90,431.20 h4.2 M645.90,414.15 h2.4 M645.90,397.10 h4.2 M645.90,380.05 h2.4 M645.90,363.00 h4.2 M393.50,585.10 v4.5 M439.40,585.10 v4.5 M485.30,585.10 v4.5 M531.20,585.10 v4.5 M577.10,585.10 v4.5 M623.00,585.10 v4.5" fill="none" stroke="#1e1e1e" stroke-width="1.1"/><text transform="translate(350.60,474.10) rotate(-90)" text-anchor="middle" style="font-size:11.6px">Feature vector</text><text transform="translate(679.70,474.10) rotate(-90)" text-anchor="middle" style="font-size:11.6px">Cosine similarity</text><text x="508.15" y="610.50" text-anchor="middle" style="font-size:11.6px">Data group</text><text x="511.70" y="628.20" text-anchor="middle" style="font-size:17.3px;fill:#03195f;stroke:#03195f">(d)</text><polyline points="393.50,533.24 394.26,529.86 395.03,526.52 395.80,523.24 396.56,519.99 397.32,516.80 398.09,513.66 398.86,510.56 399.62,507.51 400.38,504.51 401.15,501.56 401.92,498.66 402.68,495.81 403.44,493.00 404.21,490.25 404.98,487.54 405.74,484.89 406.50,482.28 407.27,479.72 408.04,477.22 408.80,474.76 409.56,472.35 410.33,470.00 411.10,467.69 411.86,465.43 412.62,463.23 413.39,461.08 414.15,458.97 414.92,456.92 415.69,454.92 416.45,452.97 417.21,451.07 417.98,449.23 418.75,447.43 419.51,445.69 420.27,444.00 421.04,442.36 421.81,440.77 422.57,439.24 423.33,437.76 424.10,436.33 424.87,434.96 425.63,433.63 426.39,432.36 427.16,431.15 427.93,429.99 428.69,428.88 429.45,427.82 430.22,426.82 430.99,425.87 431.75,424.98 432.51,424.14 433.28,423.35 434.05,422.62 434.81,421.94 435.57,421.32 436.34,420.76 437.11,420.24 437.87,419.79 438.63,419.39 439.40,419.04 440.17,418.79 440.93,418.66 441.69,418.66 442.46,418.78 443.23,419.01 443.99,419.35 444.75,419.80 445.52,420.36 446.28,421.01 447.05,421.75 447.81,422.59 448.58,423.51 449.34,424.51 450.11,425.59 450.88,426.74 451.64,427.96 452.40,429.24 453.17,430.58 453.94,431.98 454.70,433.44 455.47,434.93 456.23,436.48 457.00,438.06 457.76,439.67 458.52,441.32 459.29,442.99 460.06,444.69 460.82,446.40 461.58,448.13 462.35,449.86 463.12,451.60 463.88,453.35 464.64,455.09 465.41,456.82 466.18,458.54 466.94,460.24 467.70,461.92 468.47,463.58 469.24,465.21 470.00,466.81 470.76,468.37 471.53,469.89 472.29,471.36 473.06,472.79 473.82,474.16 474.59,475.47 475.36,476.72 476.12,477.90 476.88,479.01 477.65,480.05 478.41,481.01 479.18,481.88 479.94,482.66 480.71,483.36 481.48,483.96 482.24,484.45 483.00,484.85 483.77,485.13 484.53,485.30 485.30,485.35 486.06,485.26 486.83,485.02 487.59,484.62 488.36,484.08 489.12,483.40 489.89,482.59 490.65,481.64 491.42,480.57 492.19,479.38 492.95,478.08 493.71,476.67 494.48,475.16 495.25,473.55 496.01,471.85 496.77,470.07 497.54,468.20 498.31,466.26 499.07,464.25 499.83,462.18 500.60,460.05 501.37,457.86 502.13,455.63 502.89,453.35 503.66,451.04 504.42,448.70 505.19,446.33 505.95,443.95 506.72,441.54 507.49,439.13 508.25,436.72 509.01,434.30 509.78,431.89 510.54,429.50 511.31,427.12 512.08,424.77 512.84,422.45 513.61,420.16 514.37,417.91 515.13,415.70 515.90,413.55 516.66,411.45 517.43,409.42 518.20,407.45 518.96,405.55 519.73,403.74 520.49,402.00 521.25,400.36 522.02,398.81 522.78,397.36 523.55,396.01 524.32,394.78 525.08,393.66 525.85,392.67 526.61,391.80 527.38,391.06 528.14,390.47 528.90,390.01 529.67,389.71 530.43,389.56 531.20,389.57 531.97,389.78 532.73,390.23 533.50,390.91 534.26,391.81 535.02,392.92 535.79,394.24 536.56,395.75 537.32,397.46 538.09,399.34 538.85,401.40 539.62,403.63 540.38,406.01 541.14,408.55 541.91,411.22 542.67,414.03 543.44,416.97 544.20,420.02 544.97,423.19 545.74,426.45 546.50,429.82 547.26,433.27 548.03,436.80 548.79,440.40 549.56,444.06 550.33,447.78 551.09,451.54 551.86,455.35 552.62,459.19 553.38,463.05 554.15,466.93 554.91,470.81 555.68,474.70 556.44,478.58 557.21,482.44 557.98,486.28 558.74,490.09 559.50,493.86 560.27,497.59 561.03,501.25 561.80,504.86 562.57,508.39 563.33,511.85 564.10,515.22 564.86,518.50 565.62,521.67 566.39,524.73 567.15,527.68 567.92,530.50 568.68,533.19 569.45,535.73 570.22,538.13 570.98,540.36 571.75,542.44 572.51,544.34 573.27,546.06 574.04,547.59 574.80,548.92 575.57,550.05 576.34,550.97 577.10,551.66 577.87,552.21 578.63,552.70 579.39,553.11 580.16,553.46 580.92,553.74 581.69,553.95 582.45,554.09 583.22,554.17 583.99,554.18 584.75,554.11 585.51,553.99 586.28,553.79 587.04,553.52 587.81,553.19 588.58,552.79 589.34,552.32 590.11,551.78 590.87,551.18 591.63,550.50 592.40,549.76 593.16,548.95 593.93,548.07 594.69,547.12 595.46,546.10 596.23,545.01 596.99,543.86 597.75,542.63 598.52,541.34 599.28,539.97 600.05,538.54 600.82,537.04 601.58,535.47 602.35,533.83 603.11,532.13 603.88,530.35 604.64,528.50 605.40,526.59 606.17,524.60 606.93,522.54 607.70,520.42 608.47,518.23 609.23,515.96 610.00,513.63 610.76,511.23 611.52,508.75 612.29,506.21 613.05,503.60 613.82,500.91 614.59,498.16 615.35,495.34 616.12,492.45 616.88,489.48 617.64,486.45 618.41,483.35 619.17,480.17 619.94,476.93 620.71,473.61 621.47,470.23 622.24,466.77 623.00,463.25" fill="none" stroke="#f2a15c" stroke-width="1.6" stroke-dasharray="7.5 7"/><rect x="391.05" y="530.79" width="4.90" height="4.90" fill="#f2a15c"/><rect x="436.95" y="416.59" width="4.90" height="4.90" fill="#f2a15c"/><rect x="482.85" y="482.90" width="4.90" height="4.90" fill="#f2a15c"/><rect x="528.75" y="387.12" width="4.90" height="4.90" fill="#f2a15c"/><rect x="574.65" y="549.21" width="4.90" height="4.90" fill="#f2a15c"/><rect x="620.55" y="460.80" width="4.90" height="4.90" fill="#f2a15c"/><polyline points="393.50,492.72 394.26,494.31 395.03,495.88 395.80,497.44 396.56,498.99 397.32,500.52 398.09,502.03 398.86,503.53 399.62,505.00 400.38,506.47 401.15,507.91 401.92,509.34 402.68,510.74 403.44,512.13 404.21,513.50 404.98,514.85 405.74,516.17 406.50,517.48 407.27,518.77 408.04,520.03 408.80,521.27 409.56,522.49 410.33,523.69 411.10,524.86 411.86,526.01 412.62,527.13 413.39,528.23 414.15,529.31 414.92,530.36 415.69,531.38 416.45,532.38 417.21,533.35 417.98,534.30 418.75,535.21 419.51,536.10 420.27,536.96 421.04,537.79 421.81,538.59 422.57,539.36 423.33,540.11 424.10,540.82 424.87,541.50 425.63,542.15 426.39,542.76 427.16,543.35 427.93,543.90 428.69,544.42 429.45,544.91 430.22,545.36 430.99,545.77 431.75,546.16 432.51,546.50 433.28,546.82 434.05,547.09 434.81,547.33 435.57,547.53 436.34,547.70 437.11,547.83 437.87,547.92 438.63,547.97 439.40,547.98 440.17,547.95 440.93,547.89 441.69,547.79 442.46,547.66 443.23,547.49 443.99,547.29 444.75,547.07 445.52,546.81 446.28,546.52 447.05,546.21 447.81,545.87 448.58,545.50 449.34,545.11 450.11,544.70 450.88,544.27 451.64,543.82 452.40,543.35 453.17,542.86 453.94,542.35 454.70,541.83 455.47,541.30 456.23,540.75 457.00,540.19 457.76,539.62 458.52,539.04 459.29,538.45 460.06,537.86 460.82,537.26 461.58,536.66 462.35,536.05 463.12,535.44 463.88,534.83 464.64,534.22 465.41,533.61 466.18,533.00 466.94,532.40 467.70,531.80 468.47,531.21 469.24,530.63 470.00,530.05 470.76,529.49 471.53,528.93 472.29,528.39 473.06,527.86 473.82,527.35 474.59,526.85 475.36,526.37 476.12,525.90 476.88,525.46 477.65,525.04 478.41,524.64 479.18,524.26 479.94,523.90 480.71,523.57 481.48,523.27 482.24,522.99 483.00,522.75 483.77,522.53 484.53,522.34 485.30,522.19 486.06,522.08 486.83,522.01 487.59,521.99 488.36,522.01 489.12,522.06 489.89,522.16 490.65,522.29 491.42,522.46 492.19,522.66 492.95,522.89 493.71,523.15 494.48,523.43 495.25,523.74 496.01,524.08 496.77,524.43 497.54,524.81 498.31,525.20 499.07,525.61 499.83,526.04 500.60,526.48 501.37,526.92 502.13,527.38 502.89,527.84 503.66,528.31 504.42,528.78 505.19,529.26 505.95,529.73 506.72,530.20 507.49,530.67 508.25,531.13 509.01,531.59 509.78,532.03 510.54,532.46 511.31,532.88 512.08,533.29 512.84,533.68 513.61,534.05 514.37,534.40 515.13,534.73 515.90,535.03 516.66,535.31 517.43,535.56 518.20,535.78 518.96,535.97 519.73,536.12 520.49,536.25 521.25,536.33 522.02,536.37 522.78,536.38 523.55,536.34 524.32,536.26 525.08,536.13 525.85,535.96 526.61,535.74 527.38,535.46 528.14,535.13 528.90,534.75 529.67,534.30 530.43,533.80 531.20,533.24 531.97,532.62 532.73,531.94 533.50,531.21 534.26,530.42 535.02,529.58 535.79,528.68 536.56,527.74 537.32,526.75 538.09,525.72 538.85,524.64 539.62,523.52 540.38,522.36 541.14,521.16 541.91,519.93 542.67,518.66 543.44,517.36 544.20,516.03 544.97,514.67 545.74,513.29 546.50,511.87 547.26,510.44 548.03,508.98 548.79,507.51 549.56,506.01 550.33,504.50 551.09,502.98 551.86,501.45 552.62,499.90 553.38,498.34 554.15,496.78 554.91,495.22 555.68,493.65 556.44,492.08 557.21,490.51 557.98,488.94 558.74,487.37 559.50,485.82 560.27,484.27 561.03,482.73 561.80,481.20 562.57,479.68 563.33,478.18 564.10,476.70 564.86,475.24 565.62,473.79 566.39,472.37 567.15,470.98 567.92,469.61 568.68,468.26 569.45,466.95 570.22,465.67 570.98,464.43 571.75,463.21 572.51,462.04 573.27,460.91 574.04,459.81 574.80,458.76 575.57,457.75 576.34,456.79 577.10,455.88 577.87,454.99 578.63,454.11 579.39,453.22 580.16,452.34 580.92,451.46 581.69,450.58 582.45,449.70 583.22,448.82 583.99,447.95 584.75,447.08 585.51,446.21 586.28,445.35 587.04,444.49 587.81,443.63 588.58,442.78 589.34,441.93 590.11,441.08 590.87,440.24 591.63,439.41 592.40,438.58 593.16,437.75 593.93,436.93 594.69,436.11 595.46,435.30 596.23,434.50 596.99,433.70 597.75,432.91 598.52,432.12 599.28,431.35 600.05,430.57 600.82,429.81 601.58,429.05 602.35,428.30 603.11,427.56 603.88,426.83 604.64,426.10 605.40,425.38 606.17,424.67 606.93,423.97 607.70,423.28 608.47,422.60 609.23,421.93 610.00,421.26 610.76,420.61 611.52,419.97 612.29,419.34 613.05,418.71 613.82,418.10 614.59,417.50 615.35,416.91 616.12,416.33 616.88,415.77 617.64,415.21 618.41,414.67 619.17,414.14 619.94,413.62 620.71,413.11 621.47,412.62 622.24,412.14 623.00,411.67" fill="none" stroke="#45b4f8" stroke-width="1.6" stroke-dasharray="7.5 7"/><circle cx="393.50" cy="492.72" r="2.55" fill="#45b4f8"/><circle cx="439.40" cy="547.98" r="2.55" fill="#45b4f8"/><circle cx="485.30" cy="522.19" r="2.55" fill="#45b4f8"/><circle cx="531.20" cy="533.24" r="2.55" fill="#45b4f8"/><circle cx="577.10" cy="455.88" r="2.55" fill="#45b4f8"/><circle cx="623.00" cy="411.67" r="2.55" fill="#45b4f8"/><polyline points="393.50,404.30 394.26,404.53 395.03,404.78 395.80,405.06 396.56,405.36 397.32,405.68 398.09,406.03 398.86,406.40 399.62,406.78 400.38,407.19 401.15,407.63 401.92,408.08 402.68,408.55 403.44,409.04 404.21,409.55 404.98,410.08 405.74,410.62 406.50,411.18 407.27,411.76 408.04,412.36 408.80,412.97 409.56,413.60 410.33,414.24 411.10,414.89 411.86,415.56 412.62,416.25 413.39,416.94 414.15,417.65 414.92,418.37 415.69,419.11 416.45,419.85 417.21,420.60 417.98,421.37 418.75,422.14 419.51,422.92 420.27,423.71 421.04,424.51 421.81,425.32 422.57,426.13 423.33,426.95 424.10,427.78 424.87,428.61 425.63,429.44 426.39,430.29 427.16,431.13 427.93,431.98 428.69,432.83 429.45,433.69 430.22,434.55 430.99,435.40 431.75,436.26 432.51,437.13 433.28,437.99 434.05,438.85 434.81,439.71 435.57,440.57 436.34,441.42 437.11,442.28 437.87,443.13 438.63,443.98 439.40,444.83 440.17,445.71 440.93,446.65 441.69,447.67 442.46,448.74 443.23,449.88 443.99,451.08 444.75,452.33 445.52,453.64 446.28,455.00 447.05,456.41 447.81,457.87 448.58,459.38 449.34,460.93 450.11,462.52 450.88,464.14 451.64,465.81 452.40,467.51 453.17,469.24 453.94,471.00 454.70,472.78 455.47,474.59 456.23,476.43 457.00,478.29 457.76,480.16 458.52,482.05 459.29,483.95 460.06,485.87 460.82,487.79 461.58,489.72 462.35,491.66 463.12,493.60 463.88,495.53 464.64,497.47 465.41,499.40 466.18,501.33 466.94,503.24 467.70,505.15 468.47,507.04 469.24,508.91 470.00,510.77 470.76,512.61 471.53,514.42 472.29,516.21 473.06,517.97 473.82,519.70 474.59,521.41 475.36,523.07 476.12,524.70 476.88,526.29 477.65,527.85 478.41,529.35 479.18,530.82 479.94,532.23 480.71,533.60 481.48,534.91 482.24,536.17 483.00,537.37 483.77,538.51 484.53,539.59 485.30,540.61 486.06,541.43 486.83,541.93 487.59,542.12 488.36,542.01 489.12,541.62 489.89,540.94 490.65,540.00 491.42,538.80 492.19,537.35 492.95,535.67 493.71,533.76 494.48,531.64 495.25,529.32 496.01,526.81 496.77,524.11 497.54,521.25 498.31,518.22 499.07,515.05 499.83,511.74 500.60,508.30 501.37,504.74 502.13,501.08 502.89,497.32 503.66,493.48 504.42,489.56 505.19,485.58 505.95,481.55 506.72,477.48 507.49,473.37 508.25,469.25 509.01,465.12 509.78,460.99 510.54,456.87 511.31,452.77 512.08,448.71 512.84,444.69 513.61,440.73 514.37,436.83 515.13,433.01 515.90,429.28 516.66,425.64 517.43,422.12 518.20,418.71 518.96,415.44 519.73,412.31 520.49,409.32 521.25,406.51 522.02,403.86 522.78,401.40 523.55,399.13 524.32,397.07 525.08,395.23 525.85,393.61 526.61,392.24 527.38,391.11 528.14,390.24 528.90,389.64 529.67,389.32 530.43,389.29 531.20,389.57 531.97,390.11 532.73,390.87 533.50,391.83 534.26,392.99 535.02,394.35 535.79,395.90 536.56,397.62 537.32,399.52 538.09,401.58 538.85,403.80 539.62,406.17 540.38,408.68 541.14,411.33 541.91,414.10 542.67,417.00 543.44,420.01 544.20,423.13 544.97,426.34 545.74,429.65 546.50,433.05 547.26,436.52 548.03,440.06 548.79,443.67 549.56,447.33 550.33,451.04 551.09,454.79 551.86,458.58 552.62,462.39 553.38,466.22 554.15,470.07 554.91,473.92 555.68,477.77 556.44,481.61 557.21,485.43 557.98,489.23 558.74,493.00 559.50,496.73 560.27,500.41 561.03,504.05 561.80,507.62 562.57,511.13 563.33,514.56 564.10,517.91 564.86,521.17 565.62,524.33 566.39,527.39 567.15,530.34 567.92,533.18 568.68,535.89 569.45,538.46 570.22,540.90 570.98,543.19 571.75,545.32 572.51,547.30 573.27,549.10 574.04,550.73 574.80,552.18 575.57,553.43 576.34,554.49 577.10,555.35 577.87,556.08 578.63,556.79 579.39,557.47 580.16,558.11 580.92,558.73 581.69,559.31 582.45,559.86 583.22,560.38 583.99,560.86 584.75,561.31 585.51,561.73 586.28,562.11 587.04,562.45 587.81,562.76 588.58,563.03 589.34,563.26 590.11,563.45 590.87,563.60 591.63,563.71 592.40,563.78 593.16,563.82 593.93,563.80 594.69,563.75 595.46,563.65 596.23,563.51 596.99,563.32 597.75,563.09 598.52,562.82 599.28,562.49 600.05,562.12 600.82,561.70 601.58,561.24 602.35,560.72 603.11,560.15 603.88,559.54 604.64,558.87 605.40,558.15 606.17,557.38 606.93,556.56 607.70,555.68 608.47,554.75 609.23,553.76 610.00,552.72 610.76,551.62 611.52,550.46 612.29,549.25 613.05,547.98 613.82,546.65 614.59,545.26 615.35,543.81 616.12,542.30 616.88,540.73 617.64,539.10 618.41,537.40 619.17,535.64 619.94,533.82 620.71,531.93 621.47,529.98 622.24,527.96 623.00,525.88" fill="none" stroke="#5a6cff" stroke-width="1.6" stroke-dasharray="7.5 7"/><path d="M393.50,401.20 L396.60,406.20 L390.40,406.20 Z" fill="#5a6cff"/><path d="M439.40,441.73 L442.50,446.73 L436.30,446.73 Z" fill="#5a6cff"/><path d="M485.30,537.51 L488.40,542.51 L482.20,542.51 Z" fill="#5a6cff"/><path d="M531.20,386.47 L534.30,391.47 L528.10,391.47 Z" fill="#5a6cff"/><path d="M577.10,552.25 L580.20,557.25 L574.00,557.25 Z" fill="#5a6cff"/><path d="M623.00,522.78 L626.10,527.78 L619.90,527.78 Z" fill="#5a6cff"/><path d="M393.50,485.76 V410.74 H439.40 V560.78 H485.30 V431.20 H531.20 V438.02 H577.10 V383.46 H623.00" fill="none" stroke="#6b4b08" stroke-width="2.3"/><line x1="343.50" y1="344.50" x2="370.40" y2="344.50" stroke="#6b4b08" stroke-width="1.9"/><text x="372.70" y="348.60" style="font-size:11.6px">Cosine similarity</text><line x1="463.40" y1="340.70" x2="471.20" y2="340.70" stroke="#f2a15c" stroke-width="1.6"/><line x1="479.00" y1="340.70" x2="486.80" y2="340.70" stroke="#f2a15c" stroke-width="1.6"/><rect x="474.25" y="338.25" width="4.90" height="4.90" fill="#f2a15c"/><text x="493.40" y="345.10" style="font-size:11.6px">Video modal feature vector</text><line x1="463.40" y1="354.90" x2="471.20" y2="354.90" stroke="#45b4f8" stroke-width="1.6"/><line x1="479.00" y1="354.90" x2="486.80" y2="354.90" stroke="#45b4f8" stroke-width="1.6"/><circle cx="476.70" cy="354.90" r="2.55" fill="#45b4f8"/><text x="493.40" y="359.30" style="font-size:11.6px">Text modal feature vector</text><line x1="463.40" y1="368.90" x2="471.20" y2="368.90" stroke="#5a6cff" stroke-width="1.6"/><line x1="479.00" y1="368.90" x2="486.80" y2="368.90" stroke="#5a6cff" stroke-width="1.6"/><path d="M476.70,365.80 L479.80,370.80 L473.60,370.80 Z" fill="#5a6cff"/><text x="493.40" y="373.30" style="font-size:11.6px">Image modal feature vector</text></g>
</svg></body></html>
